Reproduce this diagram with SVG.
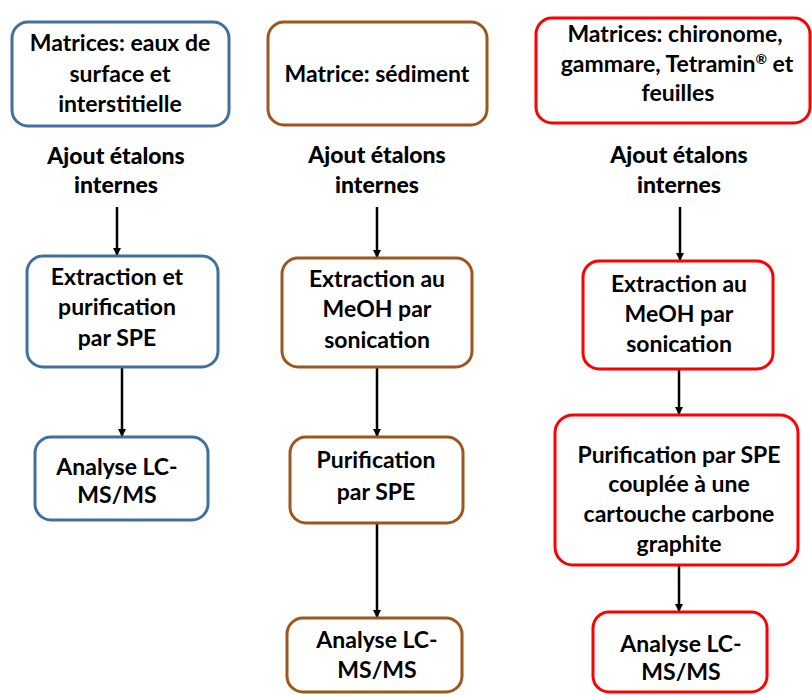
<svg xmlns="http://www.w3.org/2000/svg" width="812" height="695" viewBox="0 0 812 695">
<style>
.box{fill:#fff;stroke-width:3}
.blue{stroke:#41709E}
.brown{stroke:#9E561C}
.red{stroke:#FF0000}
text{font-family:Lato,"Liberation Sans",sans-serif;font-weight:bold;font-size:23px;fill:#000;text-anchor:middle}
.lbl{font-weight:900}
.conn line{stroke:#000;stroke-width:2.5}
</style>
<defs>
<marker id="ah" markerWidth="8" markerHeight="8" refX="7" refY="4" orient="auto" markerUnits="userSpaceOnUse">
<path d="M0,0 L8,4 L0,8 Z" fill="#000"/>
</marker>
</defs>
<rect width="812" height="695" fill="#fff"/>
<g id="connectors" class="conn">
<line x1="117" y1="207" x2="117" y2="255" marker-end="url(#ah)"/>
<line x1="122" y1="367" x2="122" y2="436" marker-end="url(#ah)"/>
<line x1="377" y1="207" x2="377" y2="257" marker-end="url(#ah)"/>
<line x1="377" y1="367" x2="377" y2="436" marker-end="url(#ah)"/>
<line x1="377" y1="523" x2="377" y2="617" marker-end="url(#ah)"/>
<line x1="680" y1="207" x2="680" y2="260" marker-end="url(#ah)"/>
<line x1="679" y1="369" x2="679" y2="414" marker-end="url(#ah)"/>
<line x1="679" y1="565" x2="679" y2="611" marker-end="url(#ah)"/>
</g>
<g id="a1">
<rect class="box blue" x="12" y="22" width="217" height="104" rx="16"/>
<text x="120" y="51">Matrices: eaux de</text>
<text x="120" y="82">surface et</text>
<text x="120" y="112">interstitielle</text>
</g>
<g id="e1">
<text class="lbl" x="116" y="164">Ajout étalons</text>
<text class="lbl" x="116" y="193">internes</text>
</g>
<g id="b1">
<rect class="box blue" x="27" y="256" width="191" height="111" rx="16"/>
<text x="117" y="285">Extraction et</text>
<text x="117" y="315">purification</text>
<text x="117" y="346">par SPE</text>
</g>
<g id="c1">
<rect class="box blue" x="35" y="437" width="173" height="83" rx="16"/>
<text x="117" y="475">Analyse LC-</text>
<text x="117" y="503">MS/MS</text>
</g>
<g id="a2">
<rect class="box brown" x="268" y="22" width="219" height="103" rx="16"/>
<text x="377" y="82">Matrice: sédiment</text>
</g>
<g id="e2">
<text class="lbl" x="377" y="163">Ajout étalons</text>
<text class="lbl" x="377" y="193">internes</text>
</g>
<g id="b2">
<rect class="box brown" x="282" y="258" width="190" height="109" rx="16"/>
<text x="377" y="287">Extraction au</text>
<text x="377" y="317">MeOH par</text>
<text x="377" y="348">sonication</text>
</g>
<g id="c2">
<rect class="box brown" x="290" y="437" width="173" height="86" rx="16"/>
<text x="376" y="468">Purification</text>
<text x="376" y="500">par SPE</text>
</g>
<g id="d2">
<rect class="box brown" x="287" y="618" width="175" height="74" rx="16"/>
<text x="377" y="648">Analyse LC-</text>
<text x="377" y="678">MS/MS</text>
</g>
<g id="a3">
<rect class="box red" x="536" y="18" width="274" height="105" rx="16"/>
<text x="675" y="42">Matrices: chironome,</text>
<text x="677" y="72">gammare, Tetramin<tspan font-size="14" dy="-8">®</tspan><tspan dy="8"> et</tspan></text>
<text x="678" y="101">feuilles</text>
</g>
<g id="e3">
<text class="lbl" x="679" y="163">Ajout étalons</text>
<text class="lbl" x="679" y="193">internes</text>
</g>
<g id="b3">
<rect class="box red" x="583" y="261" width="190" height="108" rx="16"/>
<text x="679" y="292">Extraction au</text>
<text x="679" y="322">MeOH par</text>
<text x="679" y="352">sonication</text>
</g>
<g id="c3">
<rect class="box red" x="555" y="415" width="243" height="150" rx="18"/>
<text x="679" y="463">Purification par SPE</text>
<text x="679" y="492">couplée à une</text>
<text x="679" y="522">cartouche carbone</text>
<text x="679" y="552">graphite</text>
</g>
<g id="d3">
<rect class="box red" x="593" y="612" width="174" height="80" rx="16"/>
<text x="681" y="652">Analyse LC-</text>
<text x="681" y="680">MS/MS</text>
</g>
</svg>
